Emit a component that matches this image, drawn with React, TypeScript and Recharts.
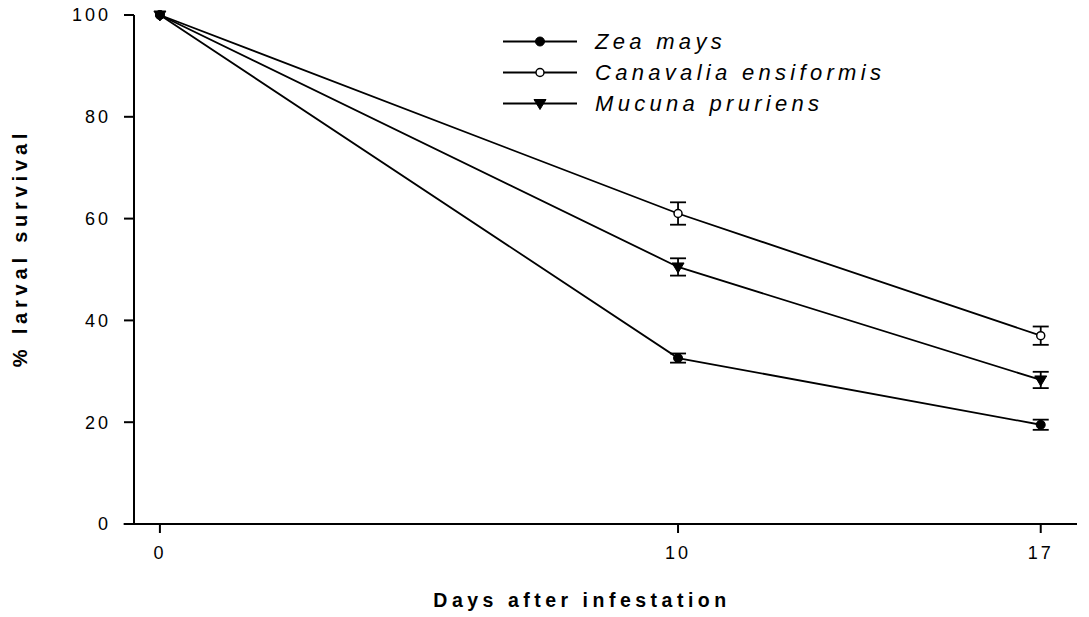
import { LineChart, Line, XAxis, YAxis, ErrorBar, Legend, ReferenceLine } from 'recharts';

const days = [0, 10, 17];
const zeaMays = [100, 32.6, 19.5];
const zeaMaysErr = [null, 0.9, 1.0];
const canavalia = [100, 61.0, 37.0];
const canavaliaErr = [null, 2.2, 1.8];
const mucuna = [100, 50.5, 28.3];
const mucunaErr = [null, 1.7, 1.6];
const yTicks = [0, 20, 40, 60, 80, 100];
const xTicks = [0, 10, 17];

const data = days.map((d, i) => ({
  day: d,
  zea: zeaMays[i],
  zeaErr: zeaMaysErr[i],
  cana: canavalia[i],
  canaErr: canavaliaErr[i],
  muc: mucuna[i],
  mucErr: mucunaErr[i],
}));

const FONT = '"Liberation Sans", Arial, Helvetica, sans-serif';

const FilledDot = ({ cx, cy }: any) => <circle cx={cx} cy={cy} r={4.5} fill="#000" stroke="#000" />;
const OpenDot = ({ cx, cy }: any) => <circle cx={cx} cy={cy} r={4} fill="#fff" stroke="#000" strokeWidth={1.5} />;
const TriDot = ({ cx, cy }: any) => (
  <path d={`M${cx - 6},${cy - 4} L${cx + 6},${cy - 4} L${cx},${cy + 6} Z`} fill="#000" stroke="#000" strokeWidth={1} />
);

const legendItems = [
  { name: 'Zea mays', Marker: FilledDot },
  { name: 'Canavalia ensiformis', Marker: OpenDot },
  { name: 'Mucuna pruriens', Marker: TriDot },
];

const CustomLegend = () => (
  <div style={{ fontFamily: FONT }}>
    {legendItems.map(({ name, Marker }) => (
      <div key={name} style={{ display: 'flex', alignItems: 'center', height: 31 }}>
        <svg width={74} height={31}>
          <line x1={0} y1={15.5} x2={74} y2={15.5} stroke="#000" strokeWidth={1.8} />
          <Marker cx={37} cy={15.5} />
        </svg>
        <span style={{ marginLeft: 18, fontSize: 22, fontStyle: 'italic', letterSpacing: 4.3, color: '#000' }}>{name}</span>
      </div>
    ))}
  </div>
);

const tickStyle = { fontFamily: FONT, fontSize: 18, letterSpacing: 3, fill: '#000' };

export default function App() {
  return (
    <div style={{ position: 'absolute', left: 0, top: 0, background: '#fff' }}>
      <LineChart width={1089} height={617} data={data} margin={{ top: 15, right: 12, bottom: 0, left: 0 }}>
        <XAxis
          dataKey="day"
          type="number"
          domain={[-0.5, 17.7]}
          ticks={xTicks}
          allowDataOverflow
          height={93}
          stroke="#000"
          strokeWidth={2}
          tickSize={9}
          tickMargin={13}
          tick={tickStyle}
          tickLine={{ stroke: '#000', strokeWidth: 2 }}
          label={{
            content: () => (
              <text x={582} y={607} textAnchor="middle" fontFamily={FONT} fontSize={19.5} fontWeight="bold" letterSpacing={4.5} fill="#000">
                Days after infestation
              </text>
            ),
          }}
        />
        <YAxis
          domain={[0, 100]}
          ticks={yTicks}
          width={134}
          stroke="#000"
          strokeWidth={2}
          tickSize={10}
          tickMargin={13}
          tick={tickStyle}
          tickLine={{ stroke: '#000', strokeWidth: 2 }}
          label={{
            content: () => (
              <text
                x={27}
                y={248}
                transform="rotate(-90 27 248)"
                textAnchor="middle"
                fontFamily={FONT}
                fontSize={20}
                fontWeight="bold"
                letterSpacing={4.8}
                fill="#000"
              >
                % larval survival
              </text>
            ),
          }}
        />
        <ReferenceLine
          segment={[{ x: -0.7, y: 0 }, { x: -0.5, y: 0 }]}
          stroke="#000"
          strokeWidth={2}
          ifOverflow="visible"
        />
        <Legend
          layout="vertical"
          verticalAlign="middle"
          align="center"
          content={<CustomLegend />}
          wrapperStyle={{ position: 'absolute', left: 503, top: 26, width: 420 }}
        />
        <Line dataKey="cana" name="Canavalia ensiformis" stroke="#000" strokeWidth={1.8} dot={<OpenDot />} isAnimationActive={false}>
          <ErrorBar dataKey="canaErr" width={8} stroke="#000" strokeWidth={1.8} />
        </Line>
        <Line dataKey="muc" name="Mucuna pruriens" stroke="#000" strokeWidth={1.8} dot={<TriDot />} isAnimationActive={false}>
          <ErrorBar dataKey="mucErr" width={8} stroke="#000" strokeWidth={1.8} />
        </Line>
        <Line dataKey="zea" name="Zea mays" stroke="#000" strokeWidth={1.8} dot={<FilledDot />} isAnimationActive={false}>
          <ErrorBar dataKey="zeaErr" width={8} stroke="#000" strokeWidth={1.8} />
        </Line>
      </LineChart>
    </div>
  );
}
